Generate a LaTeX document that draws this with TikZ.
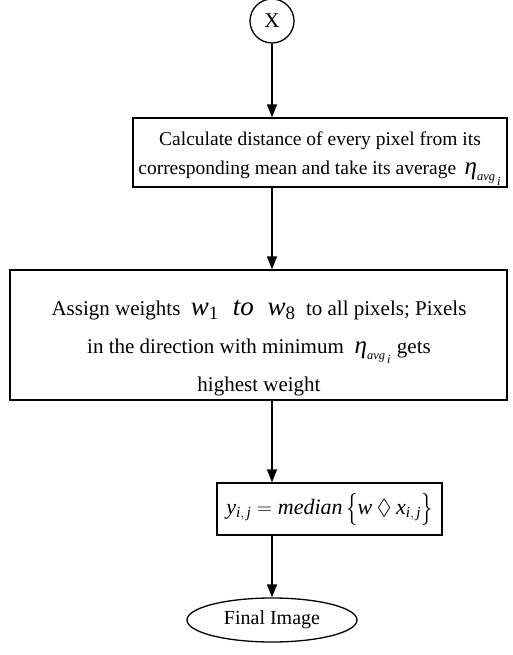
\documentclass[tikz,border=0pt]{standalone}
\usepackage{amssymb}
\usepackage{graphicx}
\usepackage{mathspec}
\setmainfont{Liberation Serif}
\setmathsfont(Digits,Latin,Greek){Liberation Serif}
\usetikzlibrary{arrows.meta}
\usetikzlibrary{shapes.geometric}
\newcommand{\etaavg}{{\fontsize{25}{25}\selectfont$\eta_{\scriptscriptstyle avg_{\,i}}$}}
\newcommand{\bigmath}[1]{{\fontsize{27}{27}\selectfont$#1$}}
\newcommand{\tallbrace}[1]{\raisebox{-3pt}{\scalebox{1.1}[1.55]{$#1$}}}

\begin{document}
\begin{tikzpicture}[x=1pt,y=-1pt,
    font=\fontsize{20}{29}\selectfont,
    flowbox/.style={draw, line width=1.3pt, align=center, inner sep=0pt},
    flowarrow/.style={line width=1.5pt, -{Triangle[width=10pt,length=13pt]}}]
        \useasboundingbox (0,0) rectangle (512,655);
        \node[draw, circle, line width=1.3pt, minimum size=44pt, inner sep=0pt, font=\fontsize{21}{21}\selectfont] (start) at (272,21) {X};
        \node[flowbox, minimum width=374pt, minimum height=69pt] (distance) at (320,152.5) {};
        \node[align=center, font=\fontsize{19.5}{29}\selectfont] (distancetext) at (320,158.5)
            {Calculate distance of every pixel from its\\
             corresponding mean and take its average\,\ \etaavg};
        \node[flowbox, minimum width=497pt, minimum height=130pt] (weights) at (258.5,335) {};
        \node[align=center, font=\fontsize{21}{38}\selectfont] (weightstext) at (259,348)
            {Assign weights \ \bigmath{w_1\;\; to\;\; w_8} \ to all pixels; Pixels\\
             in the direction with minimum \ \etaavg\ gets\\
             highest weight};
        \node[flowbox, minimum width=225pt, minimum height=52pt] (median) at (329.5,509)
            {{\fontsize{22}{22}\selectfont$y_{i,\,j} = median\,\tallbrace{\{}w \mathbin{\lozenge} x_{i,\,j}\tallbrace{\}}$}};
        \node[draw, ellipse, line width=1.3pt, minimum width=170pt, minimum height=44pt, inner sep=0pt] (final) at (272,620) {Final Image};
        \draw[flowarrow] (start) -- (start |- distance.north);
        \draw[flowarrow] (distance.south -| start) -- (start |- weights.north);
        \draw[flowarrow] (weights.south -| start) -- (start |- median.north);
        \draw[flowarrow] (median.south -| start) -- (final);
    \end{tikzpicture}
\end{document}
